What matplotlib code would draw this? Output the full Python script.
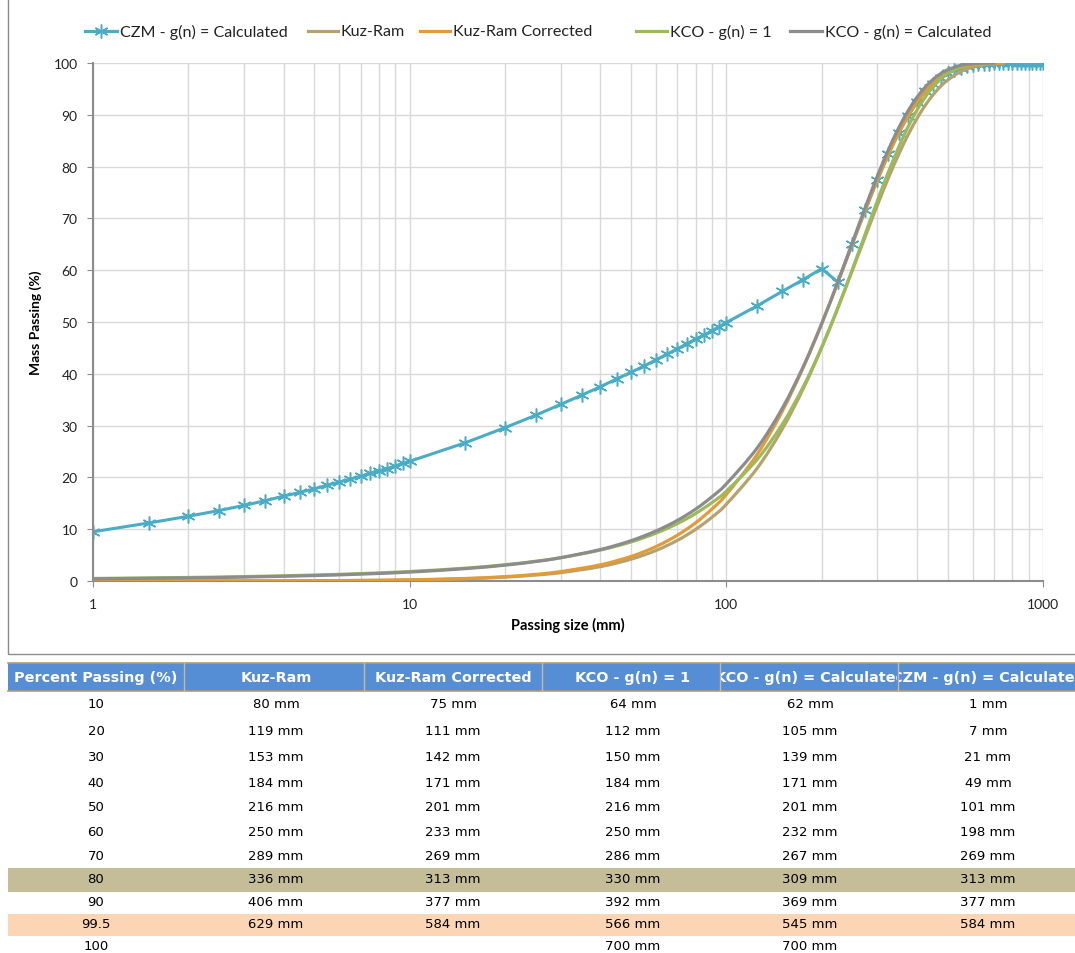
import matplotlib
matplotlib.use("Agg")
import numpy as np
import matplotlib.pyplot as plt
from matplotlib.patches import Rectangle, PathPatch
from matplotlib.path import Path
from matplotlib.lines import Line2D
from matplotlib.ticker import FuncFormatter, NullFormatter
from matplotlib.transforms import Bbox, TransformedBbox

plt.rcParams['font.family'] = ['Lato', 'DejaVu Sans']

# ---- chart data ----
czm_size = [1, 1.5, 2, 2.5, 3, 3.5, 4, 4.5, 5, 5.5, 6, 6.5, 7, 7.5, 8, 8.5, 9, 9.5, 10,
            15, 20, 25, 30, 35, 40, 45, 50, 55, 60, 65, 70, 75, 80, 85, 90, 95, 100,
            125, 150, 175, 200, 225, 250, 275, 300, 325, 350, 375, 400, 425, 450, 475,
            500, 525, 550, 575, 600, 625, 650, 675, 700, 725, 750, 775, 800, 825, 850,
            875, 900, 925, 950, 975, 1000]
czm_pass = [9.5, 11.2, 12.5, 13.6, 14.6, 15.5, 16.4, 17.1, 17.8, 18.5, 19.1, 19.7, 20.2, 20.8,
            21.3, 21.7, 22.2, 22.7, 23.1,
            26.7, 29.6, 32.0, 34.1, 35.9, 37.5, 39.0, 40.3, 41.5, 42.7, 43.8, 44.8, 45.8,
            46.7, 47.5, 48.3, 49.1, 49.9,
            53.1, 55.9, 58.2, 60.3, 57.7, 65.1, 71.7, 77.4, 82.4, 86.5, 89.8, 92.4, 94.5,
            96.0, 97.2, 98.1, 98.7, 99.1, 99.4, 99.6, 99.8, 99.9, 99.9, 100.0, 100.0,
            100.0, 100.0, 100.0, 100.0, 100.0, 100.0, 100.0, 100.0, 100.0, 100.0, 100.0]

fit_size = [1, 2, 3, 5, 7, 10, 15, 20, 25, 30, 40, 50, 60, 70, 80, 90, 100, 125, 150, 175,
            200, 225, 250, 275, 300, 325, 350, 375, 400, 425, 450, 475, 500, 550, 600,
            650, 700, 750]
kuzram = [0.00, 0.01, 0.02, 0.05, 0.10, 0.20, 0.43, 0.75, 1.15, 1.61, 2.77, 4.21, 5.90,
          7.83, 9.97, 12.30, 14.82, 21.74, 29.29, 37.15, 45.05, 52.71, 59.95, 66.60,
          72.57, 77.82, 82.33, 86.14, 89.29, 91.85, 93.89, 95.48, 96.71, 98.33, 99.20,
          99.64, 99.85, 99.94]
kuzram_corr = [0.00, 0.01, 0.02, 0.06, 0.11, 0.22, 0.49, 0.84, 1.28, 1.82, 3.12, 4.74,
               6.65, 8.83, 11.24, 13.88, 16.70, 24.40, 32.71, 41.25, 49.66, 57.67, 65.05,
               71.67, 77.44, 82.36, 86.45, 89.77, 92.42, 94.48, 96.04, 97.22, 98.08,
               99.13, 99.63, 99.85, 99.95, 99.98]
kco_g1 = [0.49, 0.68, 0.85, 1.15, 1.43, 1.83, 2.48, 3.14, 3.81, 4.50, 5.97, 7.54, 9.25,
          11.07, 13.03, 15.12, 17.34, 23.43, 30.21, 37.51, 45.10, 52.74, 60.16, 67.11,
          73.42, 78.98, 83.73, 87.69, 90.90, 93.44, 95.41, 96.89, 97.97, 99.27, 99.82,
          99.98, 100.0]
kco_calc = [0.42, 0.60, 0.76, 1.05, 1.33, 1.72, 2.39, 3.06, 3.76, 4.50, 6.07, 7.78, 9.66,
            11.69, 13.88, 16.24, 18.75, 25.64, 33.28, 41.40, 49.67, 57.76, 65.35, 72.21,
            78.20, 83.27, 87.44, 90.77, 93.38, 95.37, 96.85, 97.93, 98.69, 99.56, 99.90,
            99.99, 100.0]

# ---- table data ----
tbl_headers = ['Percent Passing (%)', 'Kuz-Ram', 'Kuz-Ram Corrected', 'KCO - g(n) = 1',
               'KCO - g(n) = Calculated', 'CZM - g(n) = Calculated']
tbl_pct = ['10', '20', '30', '40', '50', '60', '70', '80', '90', '99.5', '100']
tbl_kuzram = [80, 119, 153, 184, 216, 250, 289, 336, 406, 629, None]
tbl_kuzram_corr = [75, 111, 142, 171, 201, 233, 269, 313, 377, 584, None]
tbl_kco_g1 = [64, 112, 150, 184, 216, 250, 286, 330, 392, 566, 700]
tbl_kco_calc = [62, 105, 139, 171, 201, 232, 267, 309, 369, 545, 700]
tbl_czm = [1, 7, 21, 49, 101, 198, 269, 313, 377, 584, None]


def smooth_path(xs, ys):
    # Excel-style smoothed line: cubic Bezier through the points, in log-x space
    u = np.log10(xs)
    v = np.asarray(ys, dtype=float)
    n = len(u)
    verts = [(xs[0], ys[0])]
    codes = [Path.MOVETO]
    for i in range(n - 1):
        a = max(i - 1, 0)
        b = min(i + 2, n - 1)
        c1 = (u[i] + (u[i + 1] - u[a]) / 6, v[i] + (v[i + 1] - v[a]) / 6)
        c2 = (u[i + 1] - (u[b] - u[i]) / 6, v[i + 1] - (v[b] - v[i]) / 6)
        verts += [(10 ** c1[0], c1[1]), (10 ** c2[0], c2[1]), (xs[i + 1], ys[i + 1])]
        codes += [Path.CURVE4] * 3
    return Path(verts, codes)


W, H = 1075, 954
fig = plt.figure(figsize=(W / 100, H / 100), dpi=100)

# outer chart frame
fig.add_artist(Rectangle((8 / W, 1 - 655 / H), 1.2, 1.0, transform=fig.transFigure,
                         fill=False, ec='#8c8c8c', lw=1.0))

ax = fig.add_axes([93 / W, 1 - 582 / H, (1043 - 93) / W, (582 - 64) / H])
ax.set_xscale('log')
ax.set_xlim(1, 1000)
ax.set_ylim(0, 100)
ax.set_yticks(range(0, 101, 10))
ax.xaxis.set_major_formatter(FuncFormatter(lambda v, p: f'{v:g}'))
ax.xaxis.set_minor_formatter(NullFormatter())
ax.grid(True, which='both', axis='x', color='#d9d9d9', lw=1.0)
ax.grid(True, which='major', axis='y', color='#d9d9d9', lw=1.0)
ax.set_axisbelow(True)
for s in ['top', 'right']:
    ax.spines[s].set_visible(False)
for s in ['left', 'bottom']:
    ax.spines[s].set_color('#8c8c8c')
    ax.spines[s].set_linewidth(1.5)
ax.tick_params(which='major', length=4, color='#8c8c8c', labelsize=10, pad=8,
               labelcolor='#222222')
ax.tick_params(which='minor', length=0)
ax.tick_params(axis='y', pad=7)
ax.set_xlabel('Passing size (mm)', fontsize=10.5, fontweight='bold', labelpad=5)
ax.set_ylabel('Mass Passing (%)', fontsize=10, fontweight='bold', labelpad=8)

c_czm, c_kr, c_krc, c_k1, c_kc = '#4bacc6', '#b5a26f', '#e39b38', '#9bbb59', '#8c8c8c'
star = (6, 2, 0)
ax.plot(czm_size, czm_pass, color=c_czm, lw=2.2, marker=star, ms=10, mew=1.1, zorder=2)
for sizes, vals, col, z in [(fit_size, kuzram, c_kr, 3),
                            (fit_size, kuzram_corr, c_krc, 4),
                            (fit_size[:len(kco_g1)], kco_g1, c_k1, 5),
                            (fit_size[:len(kco_calc)], kco_calc, c_kc, 6)]:
    ax.add_patch(PathPatch(smooth_path(sizes, vals), fill=False, ec=col, lw=2.3,
                           zorder=z, capstyle='round', joinstyle='round'))

# legend, placed by hand like the original
leg_items = [('CZM - g(n) = Calculated', c_czm, 85, 117, True),
             ('Kuz-Ram', c_kr, 308, 338, False),
             ('Kuz-Ram Corrected', c_krc, 420, 450, False),
             ('KCO - g(n) = 1', c_k1, 636, 667, False),
             ('KCO - g(n) = Calculated', c_kc, 790, 822, False)]
ly = 1 - 32 / H
for lab, col, x0, x1, mk in leg_items:
    fig.add_artist(Line2D([x0 / W, x1 / W], [ly, ly], transform=fig.transFigure,
                          color=col, lw=2.3))
    if mk:
        fig.add_artist(Line2D([(x0 + x1) / 2 / W], [ly], transform=fig.transFigure,
                              color=col, marker=star, ms=10, mew=1.1, ls='none'))
    fig.text((x1 + 3) / W, ly, lab, ha='left', va='center', fontsize=11.6,
             color='#222222')

# ---- table ----
tax = fig.add_axes([0, 0, 1, 1])
tax.set_xlim(0, W)
tax.set_ylim(H, 0)
tax.axis('off')

edges = [8, 184, 364, 542, 720, 898, 1075]
centers = [96, 276, 453, 633, 810, 988]
rows_y = [705, 732, 758, 784, 808, 833, 857, 880, 903, 925, 947]

tax.add_patch(Rectangle((8, 664), W - 8, 28, fc='#558ed5', ec='none'))
tax.plot([8, W], [664, 664], color='#b8996f', lw=1.2)
tax.plot([8, W], [692, 692], color='#b8996f', lw=1.2)
for e in edges[1:-1]:
    tax.plot([e, e], [664, 692], color='#c9b89e', lw=1.0)
for i, h in enumerate(tbl_headers):
    t = tax.text(centers[i], 678, h, ha='center', va='center', color='white',
                 fontsize=10.4, fontweight='bold', family='DejaVu Sans', clip_on=True)
    t.set_clip_box(TransformedBbox(Bbox.from_extents(edges[i] + 1, 664, edges[i + 1] - 1, 692),
                                   tax.transData))

tax.add_patch(Rectangle((8, 869), W - 8, 24, fc='#c4bd97', ec='none'))
tax.add_patch(Rectangle((8, 915), W - 8, 22, fc='#fcd5b4', ec='none'))

cols = [tbl_kuzram, tbl_kuzram_corr, tbl_kco_g1, tbl_kco_calc, tbl_czm]
for r, y in enumerate(rows_y):
    tax.text(centers[0], y, tbl_pct[r], ha='center', va='center', fontsize=9.5,
             family='DejaVu Sans', color='black')
    for c, col in enumerate(cols):
        if col[r] is not None:
            tax.text(centers[c + 1], y, f'{col[r]} mm', ha='center', va='center',
                     fontsize=9.5, family='DejaVu Sans', color='black')

fig.savefig('out.png', dpi=100)
